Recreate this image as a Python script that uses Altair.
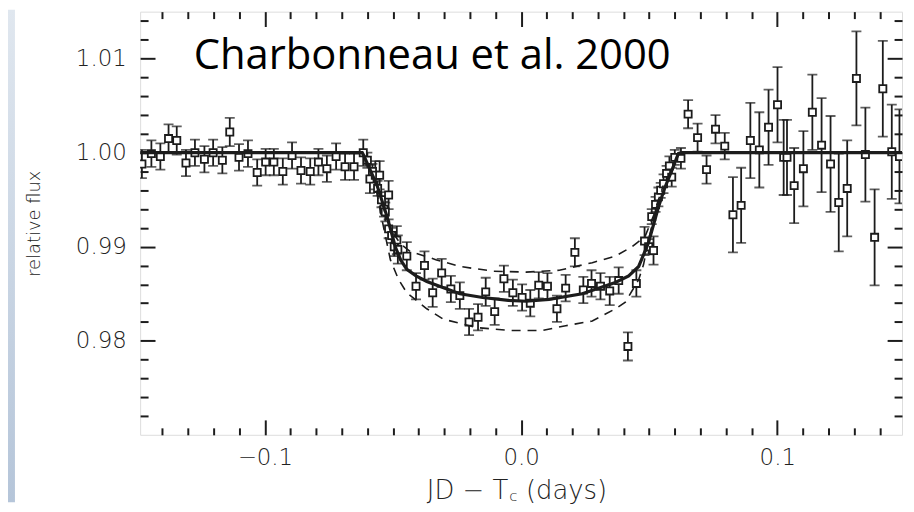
import altair as alt
import pandas as pd

# ---------------- data ----------------
time = [-0.1480, -0.1443, -0.1408, -0.1376, -0.1344, -0.1308, -0.1273, -0.1236, -0.1202, -0.1166,
        -0.1137, -0.1101, -0.1066, -0.1030, -0.0997, -0.0965, -0.0930, -0.0894, -0.0859, -0.0823,
        -0.0791, -0.0758, -0.0722, -0.0687, -0.0652, -0.0616,
        -0.0600, -0.0590, -0.0580, -0.0569, -0.0560, -0.0552, -0.0545, -0.0535, -0.0530, -0.0517,
        -0.0517, -0.0505, -0.0495, -0.0485, -0.0481, -0.0446, -0.0410, -0.0377, -0.0345, -0.0310,
        -0.0274, -0.0239, -0.0203, -0.0168, -0.0138, -0.0103, -0.0067, -0.0032, 0.0004, 0.0036,
        0.0069, 0.0103, 0.0140, 0.0174, 0.0210, 0.0243, 0.0275, 0.0310, 0.0346, 0.0381,
        0.0417, 0.0450, 0.0482, 0.0498, 0.0510, 0.0517, 0.0525, 0.0536, 0.0545, 0.0556,
        0.0568, 0.0579, 0.0588, 0.0600, 0.0624,
        0.0652, 0.0689, 0.0724, 0.0759, 0.0795, 0.0827, 0.0859, 0.0895, 0.0930, 0.0966,
        0.1001, 0.1025, 0.1038, 0.1066, 0.1102, 0.1137, 0.1173, 0.1208, 0.1240, 0.1273,
        0.1309, 0.1344, 0.1380, 0.1412, 0.1447, 0.1477]
flux = [0.9988, 0.9999, 0.9996, 1.0015, 1.0013, 0.9989, 1.0000, 0.9993, 1.0000, 0.9992,
        1.0022, 0.9995, 0.9999, 0.9979, 0.9990, 0.9990, 0.9980, 0.9997, 0.9981, 0.9980,
        0.9990, 0.9983, 0.9996, 0.9985, 0.9985, 1.0000,
        0.9992, 0.9972, 0.9980, 0.9976, 0.9962, 0.9976, 0.9950, 0.9940, 0.9937, 0.9955,
        0.9919, 0.9912, 0.9900, 0.9907, 0.9897, 0.9890, 0.9858, 0.9880, 0.9851, 0.9872,
        0.9855, 0.9848, 0.9820, 0.9825, 0.9852, 0.9831, 0.9866, 0.9851, 0.9846, 0.9840,
        0.9859, 0.9858, 0.9834, 0.9856, 0.9894, 0.9854, 0.9861, 0.9858, 0.9853, 0.9864,
        0.9794, 0.9861, 0.9906, 0.9900, 0.9932, 0.9896, 0.9945, 0.9953, 0.9960, 0.9967,
        0.9978, 0.9986, 0.9974, 0.9995, 0.9994,
        1.0041, 1.0016, 0.9982, 1.0025, 1.0007, 0.9934, 0.9944, 1.0013, 1.0003, 1.0027,
        1.0051, 0.9995, 0.9995, 0.9965, 0.9983, 1.0043, 1.0008, 0.9988, 0.9947, 0.9962,
        1.0079, 0.9998, 0.9910, 1.0068, 1.0001, 0.9996]
err = [0.0015, 0.0014, 0.0014, 0.0015, 0.0015, 0.0014, 0.0014, 0.0014, 0.0014, 0.0014,
       0.0015, 0.0014, 0.0014, 0.0014, 0.0014, 0.0014, 0.0014, 0.0014, 0.0014, 0.0014,
       0.0014, 0.0014, 0.0014, 0.0014, 0.0014, 0.0014,
       0.0008, 0.0015, 0.0008, 0.0015, 0.0008, 0.0015, 0.0008, 0.0008, 0.0010, 0.0015,
       0.0010, 0.0008, 0.0010, 0.0015, 0.0015, 0.0015, 0.0014, 0.0015, 0.0015, 0.0015,
       0.0014, 0.0014, 0.0014, 0.0014, 0.0015, 0.0014, 0.0014, 0.0014, 0.0014, 0.0014,
       0.0014, 0.0014, 0.0014, 0.0014, 0.0015, 0.0014, 0.0014, 0.0014, 0.0015, 0.0014,
       0.0015, 0.0014, 0.0015, 0.0008, 0.0008, 0.0015, 0.0008, 0.0010, 0.0008, 0.0010,
       0.0008, 0.0010, 0.0010, 0.0008, 0.0011,
       0.0015, 0.0015, 0.0015, 0.0015, 0.0014, 0.0040, 0.0040, 0.0040, 0.0040, 0.0040,
       0.0040, 0.0040, 0.0040, 0.0040, 0.0040, 0.0040, 0.0050, 0.0051, 0.0052, 0.0051,
       0.0050, 0.0050, 0.0051, 0.0051, 0.0050, 0.0050]

model_t = [-0.1487, -0.0620, -0.0614, -0.0562, -0.0523, -0.0491, -0.0470, -0.0446, -0.0410,
           -0.0368, -0.0300, -0.0239, -0.0150, -0.0050, 0.0020, 0.0109, 0.0239, 0.0368,
           0.0420, 0.0459, 0.0497, 0.0536, 0.0560, 0.0588, 0.0614, 0.0625, 0.1487]
model_f = [1.0000, 1.0000, 0.9997, 0.9965, 0.9932, 0.9900, 0.9886, 0.9876, 0.9869,
           0.9863, 0.9856, 0.9850, 0.9846, 0.9843, 0.9842, 0.9844, 0.9850, 0.9862,
           0.9869, 0.9879, 0.9904, 0.9942, 0.9962, 0.9981, 0.9999, 1.0000, 1.0000]

upper_t = [-0.0560, -0.0530, -0.0501, -0.0470, -0.0433, -0.0330, -0.0239, -0.0110, 0.0019,
           0.0149, 0.0278, 0.0368, 0.0433, 0.0484, 0.0520, 0.0550]
upper_f = [0.9962, 0.9935, 0.9915, 0.9903, 0.9895, 0.9886, 0.9879, 0.9874, 0.9873,
           0.9875, 0.9883, 0.9890, 0.9900, 0.9911, 0.9935, 0.9960]
lower_t = [-0.0565, -0.0540, -0.0510, -0.0478, -0.0446, -0.0368, -0.0304, -0.0174, -0.0045,
           0.0084, 0.0174, 0.0278, 0.0368, 0.0407, 0.0459, 0.0478, 0.0500, 0.0530, 0.0555]
lower_f = [0.9960, 0.9925, 0.9886, 0.9865, 0.9851, 0.9834, 0.9823, 0.9814, 0.9811,
           0.9811, 0.9816, 0.9821, 0.9834, 0.9841, 0.9865, 0.9881, 0.9910, 0.9945, 0.9965]

x_major = [-0.1, 0.0, 0.1]
x_minor = [-0.14, -0.13, -0.12, -0.11, -0.09, -0.08, -0.07, -0.06, -0.05, -0.04, -0.03, -0.02,
           -0.01, 0.01, 0.02, 0.03, 0.04, 0.05, 0.06, 0.07, 0.08, 0.09, 0.11, 0.12, 0.13, 0.14]
y_major = [0.98, 0.99, 1.00, 1.01]
y_minor = [0.972, 0.974, 0.976, 0.978, 0.982, 0.984, 0.986, 0.988, 0.992, 0.994, 0.996, 0.998,
           1.002, 1.004, 1.006, 1.008, 1.012, 1.014]

note_text = "Charbonneau et al. 2000"
x_title = ["JD  \u2212  T", "c", "(days)"]
y_title = "relative flux"

# ---------------- tables ----------------
df = pd.DataFrame({"t": time, "f": flux, "e": err})
df["lo"] = df["f"] - df["e"]
df["hi"] = df["f"] + df["e"]
model_df = pd.DataFrame({"t": model_t, "f": model_f})
dash_df = pd.concat([
    pd.DataFrame({"t": upper_t, "f": upper_f, "curve": "upper"}),
    pd.DataFrame({"t": lower_t, "f": lower_f, "curve": "lower"}),
])

# ---------------- layout / style ----------------
W, H = 767, 426
XDOM = [-0.1487, 0.1487]
YDOM = [0.970, 1.015]
INK = "#1c1c1c"
LABEL_INK = "#222222"
LABEL_FONT = "DejaVu Sans"
xs = alt.Scale(domain=XDOM, nice=False, zero=False)
ys = alt.Scale(domain=YDOM, nice=False, zero=False)


def tick_axis(orient, values, size):
    return alt.Axis(orient=orient, values=values, tickSize=size, offset=-size, labels=False,
                    domain=False, grid=False, title=None, ticks=True, tickColor=INK,
                    tickWidth=2)


x_label_axis = alt.Axis(orient="bottom", values=x_major, format=".1f", ticks=False,
                        domain=False, grid=False, labelPadding=12, labelFont=LABEL_FONT,
                        labelFontSize=23, labelFontWeight=200, labelColor=LABEL_INK,
                        title=None)
y_label_axis = alt.Axis(orient="left", values=y_major, format=".2f", ticks=False,
                        domain=False, grid=False, labelPadding=14, labelFont=LABEL_FONT,
                        labelFontSize=23, labelFontWeight=200, labelColor=LABEL_INK,
                        title=y_title, titleFont=LABEL_FONT, titleFontSize=18,
                        titleFontWeight=200, titleColor=LABEL_INK, titleX=-106,
                        titleY=H / 2, titleAlign="center", titleBaseline="middle",
                        titleAngle=270)

base = alt.Chart(df)

strip = alt.Chart(pd.DataFrame({"k": [0]})).mark_rect(
    fill=alt.Gradient(gradient="linear",
                      stops=[alt.GradientStop(color="#e0e7ef", offset=0),
                             alt.GradientStop(color="#b5c5d9", offset=1)],
                      x1=0, x2=0, y1=0, y2=1)
).encode(x=alt.value(-133), x2=alt.value(-126), y=alt.value(-2), y2=alt.value(494))

bars = base.mark_rule(color=INK, strokeWidth=1.8, clip=True).encode(
    x=alt.X("t:Q", scale=xs, axis=x_label_axis),
    y=alt.Y("lo:Q", scale=ys, axis=y_label_axis),
    y2="hi:Q",
)
caps_lo = base.mark_tick(color=INK, orient="horizontal", size=10, thickness=1.8,
                         clip=True).encode(
    x=alt.X("t:Q", scale=xs, axis=tick_axis("bottom", x_major, 15)),
    y=alt.Y("lo:Q", scale=ys, axis=tick_axis("left", y_major, 15)),
)
caps_hi = base.mark_tick(color=INK, orient="horizontal", size=10, thickness=1.8,
                         clip=True).encode(
    x=alt.X("t:Q", scale=xs, axis=tick_axis("bottom", x_minor, 7)),
    y=alt.Y("hi:Q", scale=ys, axis=tick_axis("left", y_minor, 8)),
)
points = base.mark_point(shape="square", filled=True, fill="white", size=52, stroke=INK,
                         strokeWidth=1.8, opacity=1, clip=True).encode(
    x=alt.X("t:Q", scale=xs, axis=tick_axis("top", x_major, 15)),
    y=alt.Y("f:Q", scale=ys, axis=tick_axis("right", y_major, 15)),
)
model = alt.Chart(model_df).mark_line(color=INK, strokeWidth=3.2, clip=True).encode(
    x=alt.X("t:Q", scale=xs, axis=tick_axis("top", x_minor, 7)),
    y=alt.Y("f:Q", scale=ys, axis=tick_axis("right", y_minor, 8)),
)
dashed = alt.Chart(dash_df).mark_line(color=INK, strokeWidth=1.6, strokeDash=[9, 7],
                                      clip=True).encode(
    x=alt.X("t:Q", scale=xs, axis=None),
    y=alt.Y("f:Q", scale=ys, axis=None),
    detail="curve:N",
)
note = alt.Chart(pd.DataFrame({"k": [0]})).mark_text(
    text=note_text, font="Open Sans", fontSize=42, color="black", align="left",
    baseline="alphabetic"
).encode(
    x=alt.XDatum(-0.1278, type="quantitative", scale=xs, axis=None),
    y=alt.YDatum(1.0089, type="quantitative", scale=ys, axis=None),
)


def title_part(text, align, dx, dy, size):
    return alt.Chart(pd.DataFrame({"k": [0]})).mark_text(
        text=text, font=LABEL_FONT, fontSize=size, fontWeight=200, color=LABEL_INK,
        align=align, baseline="alphabetic", dx=dx, dy=dy
    ).encode(
        x=alt.XDatum(0.0, type="quantitative", scale=xs, axis=None),
        y=alt.YDatum(YDOM[0], type="quantitative", scale=ys, axis=None),
    )


xt1 = title_part(x_title[0], "right", -13, 65, 26)
xt2 = title_part(x_title[1], "left", -12, 67, 15)
xt3 = title_part(x_title[2], "left", 5, 65, 26)

chart = alt.layer(
    strip, bars, caps_lo, caps_hi, points, model, dashed, note, xt1, xt2, xt3
).resolve_axis(
    x="independent", y="independent"
).properties(
    width=W, height=H,
    padding={"left": 133, "top": 2, "right": 4, "bottom": 68},
    autosize=alt.AutoSizeParams(type="none"),
).configure_view(
    stroke=INK, strokeWidth=2
).configure(background="white")

chart.save("out.html", embed_options={"renderer": "svg", "actions": False})
